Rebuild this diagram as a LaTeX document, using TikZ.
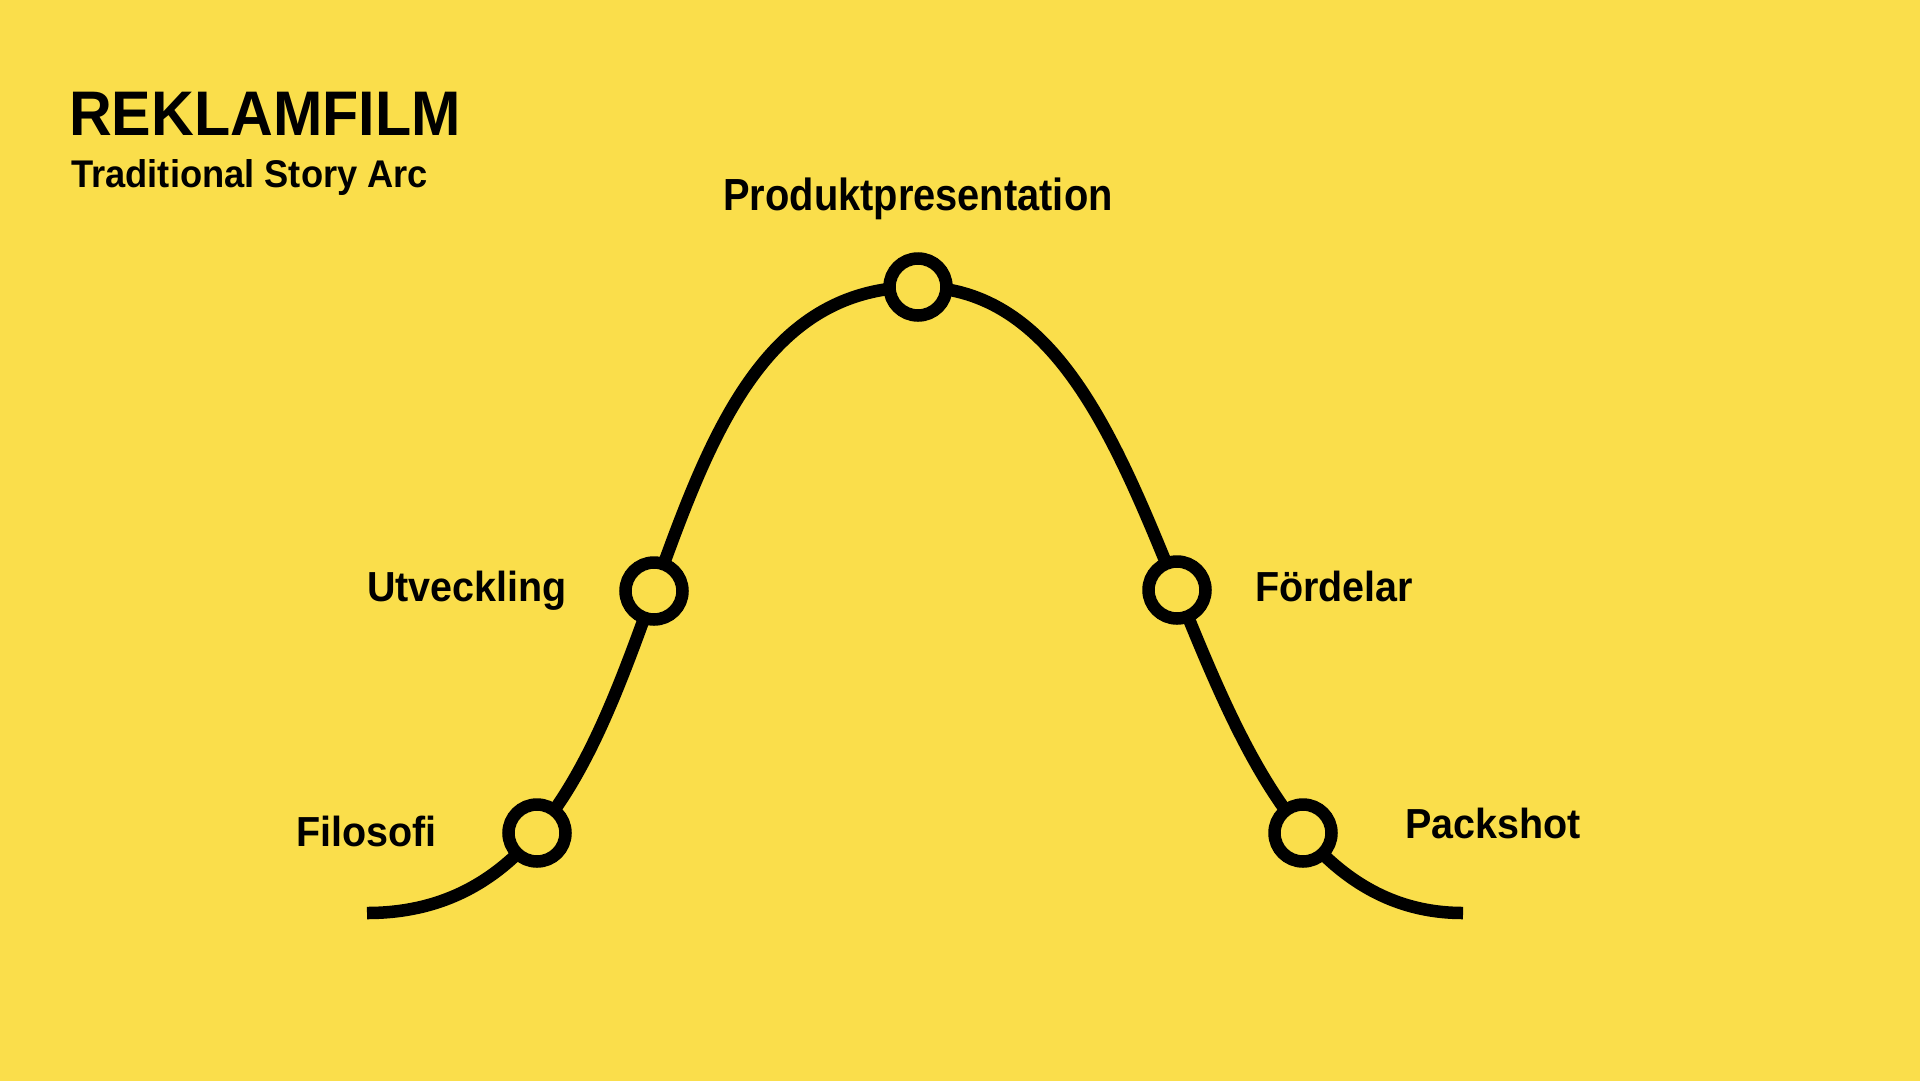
\documentclass[tikz,border=0pt]{standalone}
\usepackage{fontspec}
\setmainfont{Liberation Sans}[FakeStretch=0.94]
\newfontfamily\narrowfont{Liberation Sans}[FakeStretch=0.885]
\definecolor{bgyellow}{RGB}{250,222,75}
\begin{document}
\begin{tikzpicture}[x=1pt,y=-1pt,
  arcline/.style={line width=12.5pt,black},
  dot/.style={circle,draw=black,fill=bgyellow,line width=12.5pt,minimum size=57pt,inner sep=0pt},
  lbl/.style={anchor=base west,inner sep=0pt,font=\bfseries\fontsize{42}{48}\selectfont}]
\useasboundingbox (0,0) rectangle (1920,1080);
\fill[bgyellow] (-10,-10) rectangle (1930,1090);
% title
\node[anchor=base west,inner sep=0pt,font=\bfseries\fontsize{63}{70}\selectfont] (title) at (69,135) {REKLAMFILM};
\node[anchor=base west,inner sep=0pt,font=\bfseries\fontsize{38.6}{44}\selectfont] (subtitle) at (71,187) {Traditional Story Arc};
% curve
\coordinate (L) at (367,913);
\coordinate (R) at (1463,913);
\coordinate (topc) at (918,287);
\draw[arcline] (L) .. controls (703,913) and (604,287) .. (topc)
   .. controls (1196,287) and (1160,913) .. (R);
% points
\node[dot] (filo) at (537,833) {};
\node[dot] (utv) at (654,591) {};
\node[dot] (prod) at (topc) {};
\node[dot] (ford) at (1177,590) {};
\node[dot] (pack) at (1303,833) {};
% labels
\node[anchor=base,inner sep=0pt,font=\narrowfont\bfseries\fontsize{45}{50}\selectfont] (prodlbl) at (918,210) {Produktpresentation};
\node[lbl] (utvlbl) at (367,601) {Utveckling};
\node[lbl] (filolbl) at (296,846) {Filosofi};
\node[lbl] (fordlbl) at (1255,601) {Fördelar};
\node[lbl] (packlbl) at (1405,838) {Packshot};
\end{tikzpicture}
\end{document}
